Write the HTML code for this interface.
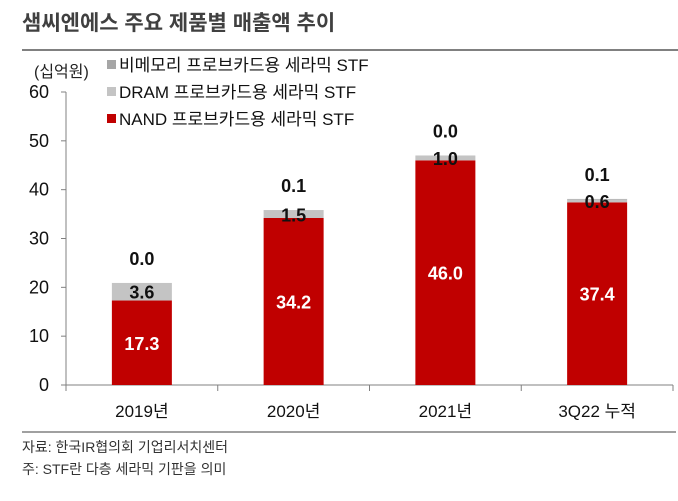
<!DOCTYPE html>
<html><head><meta charset="utf-8"><style>
body{margin:0;background:#fff;}
svg text{font-family:"Liberation Sans","Noto Sans CJK KR",sans-serif;}
</style></head><body>
<svg id="chart" width="678" height="496" viewBox="0 0 678 496">
<text x="22" y="30" font-size="21" font-weight="bold" fill="#404040">샘씨엔에스 주요 제품별 매출액 추이</text>
<line x1="22" y1="50" x2="678" y2="50" stroke="#808080" stroke-width="2"/>
<text x="34" y="77" font-size="16" fill="#222">(십억원)</text>
<g id="legend"></g>
<g id="axes"></g>
<g id="bars"></g>
<line x1="22" y1="432" x2="676" y2="432" stroke="#808080" stroke-width="1.5"/>
<text x="22" y="452" font-size="14" fill="#333">자료: 한국IR협의회 기업리서치센터</text>
<text x="22" y="474" font-size="14" fill="#333">주: STF란 다층 세라믹 기판을 의미</text>
</svg>
<script>
const categories=["2019년","2020년","2021년","3Q22 누적"];
const nand=[17.3,34.2,46.0,37.4];
const dram=[3.6,1.5,1.0,0.6];
const nonmem=[0.0,0.1,0.0,0.1];
const yTicks=[0,10,20,30,40,50,60];
const seriesNames=["비메모리 프로브카드용 세라믹 STF","DRAM 프로브카드용 세라믹 STF","NAND 프로브카드용 세라믹 STF"];
const seriesColors=["#a6a6a6","#c4c4c4","#c00000"];

const NS="http://www.w3.org/2000/svg";
const x0=66,x1=673,y0=385,yTop=92,yMax=60;
const bw=(x1-x0)/categories.length;
const y=v=>y0-(v/yMax)*(y0-yTop);
const xc=i=>x0+bw*(i+0.5);
function mk(tag,attrs,parent,txt){const e=document.createElementNS(NS,tag);for(const k in attrs)e.setAttribute(k,attrs[k]);if(txt!==undefined)e.textContent=txt;parent.appendChild(e);return e;}
const axes=document.getElementById('axes'),bars=document.getElementById('bars'),legend=document.getElementById('legend');

let l=mk('line',{x1:x0,y1:yTop,x2:x0,y2:y0,stroke:'#808080'},axes);


yTicks.forEach(t=>{
  let tk=mk('line',{x1:x0-5,y1:y(t),x2:x0,y2:y(t),stroke:'#808080'},axes);
  
  
  let tx=mk('text',{x:x0-17,y:y(t)+6,'font-size':18,'text-anchor':'end',fill:'#111'},axes,String(t));
  
  
});
let xa=mk('line',{x1:x0,y1:y0,x2:x1,y2:y0,stroke:'#808080'},axes);


for(let i=0;i<=categories.length;i++){
  let tk=mk('line',{x1:x0+bw*i,y1:y0,x2:x0+bw*i,y2:y0+6,stroke:'#808080'},axes);
  
  
}
const fmt=v=>v.toFixed(1);
categories.forEach((c,i)=>{
  const cx=xc(i),w=60;
  let lab=mk('text',{x:cx,y:417,'font-size':17,'text-anchor':'middle',fill:'#111'},axes,c);
  
  
  const segs=[nand[i],dram[i],nonmem[i]];
  const cols=[seriesColors[2],seriesColors[1],seriesColors[0]];
  const names=['bar-nand','bar-dram','bar-nonmemory'];
  let base=0;
  segs.forEach((v,k)=>{
    let r=mk('rect',{x:cx-w/2,y:y(base+v),width:w,height:y(base)-y(base+v),fill:cols[k]},bars);
    
    
    base+=v;
  });
  let t1=mk('text',{x:cx,y:(y(0)+y(nand[i]))/2+7,'font-size':18,'font-weight':'bold','text-anchor':'middle',fill:'#fff'},bars,fmt(nand[i]));
  
  
  let t2=mk('text',{x:cx,y:y(nand[i]+dram[i]/2)+7,'font-size':18,'font-weight':'bold','text-anchor':'middle',fill:'#111'},bars,fmt(dram[i]));
  
  
  let t3=mk('text',{x:cx,y:y(base)-18,'font-size':18,'font-weight':'bold','text-anchor':'middle',fill:'#111'},bars,fmt(nonmem[i]));
  
  
});
seriesNames.forEach((n,k)=>{
  const ly=71+k*27;
  let s=mk('rect',{x:107,y:ly-11,width:9,height:9,fill:seriesColors[k]},legend);
  
  
  let t=mk('text',{x:119,y:ly,'font-size':17,fill:'#111'},legend,n);
  
  
});
</script>
</body></html>
